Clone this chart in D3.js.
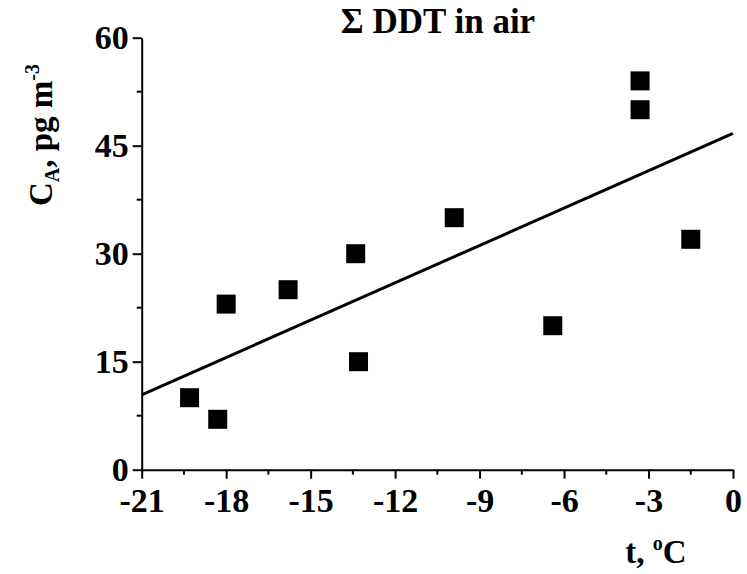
<!DOCTYPE html>
<html><head><meta charset="utf-8">
<script src="https://cdn.jsdelivr.net/npm/d3@7"></script>
<style>body{margin:0;background:#fff}svg{display:block}</style>
</head><body>
<script>
const tempC = [-19.3, -18.3, -18.0, -15.8, -13.4, -13.3, -9.9, -6.4, -3.3, -3.3, -1.5];
const concDDT = [10, 7, 23, 25, 30, 15, 35, 20, 54, 50, 32];
const fitX = [-21, 0];
const fitY = [10.4, 46.7];
const xTicks = [-21, -18, -15, -12, -9, -6, -3, 0];
const yTicks = [0, 15, 30, 45, 60];

const FONT = "'Liberation Serif', 'Times New Roman', Times, serif";
const W = 747, H = 574;
const m = {left: 141.7, right: W - 733, top: 37.7, bottom: H - 469.7};
const svg = d3.select("body").append("svg").attr("width", W).attr("height", H)
  .style("font-family", FONT).style("font-weight", "bold");
const x = d3.scaleLinear().domain([-21, 0]).range([m.left, W - m.right]);
const y = d3.scaleLinear().domain([0, 60]).range([H - m.bottom, m.top]);

// minor ticks
const xMinor = d3.range(-19.5, 0, 3);
const yMinor = d3.range(7.5, 60, 15);
svg.append("g").selectAll("line").data(xMinor).join("line")
  .attr("x1", d => x(d)).attr("x2", d => x(d))
  .attr("y1", y(0)).attr("y2", y(0) + 5).attr("stroke", "#000").attr("stroke-width", 2);
svg.append("g").selectAll("line").data(yMinor).join("line")
  .attr("y1", d => y(d)).attr("y2", d => y(d))
  .attr("x1", x(-21)).attr("x2", x(-21) - 5).attr("stroke", "#000").attr("stroke-width", 2);

const xAxis = svg.append("g").attr("transform", `translate(0,${y(0)})`)
  .call(d3.axisBottom(x).tickValues(xTicks).tickSize(9).tickPadding(9).tickSizeOuter(0));
const yAxis = svg.append("g").attr("transform", `translate(${x(-21)},0)`)
  .call(d3.axisLeft(y).tickValues(yTicks).tickSize(9).tickPadding(4).tickSizeOuter(0));
[xAxis, yAxis].forEach(g => {
  g.attr("font-family", null).attr("font-size", null);
  g.select(".domain").attr("stroke", "#000").attr("stroke-width", 2);
  g.selectAll(".tick line").attr("stroke", "#000").attr("stroke-width", 2);
  g.selectAll(".tick text").style("font-family", FONT).style("font-weight", "bold")
    .style("font-size", "34px").attr("fill", "#000");
});
xAxis.selectAll(".tick text").text(d => d < 0 ? "-" + Math.abs(d) : d);

// fit line
svg.append("line")
  .attr("x1", x(fitX[0])).attr("y1", y(fitY[0]))
  .attr("x2", x(fitX[1])).attr("y2", y(fitY[1]))
  .attr("stroke", "#000").attr("stroke-width", 3);

// points
const s = 19;
svg.append("g").selectAll("rect").data(tempC.map((t, i) => [t, concDDT[i]])).join("rect")
  .attr("x", d => x(d[0]) - s / 2).attr("y", d => y(d[1]) - s / 2)
  .attr("width", s).attr("height", s).attr("fill", "#000");

// title
svg.append("text").attr("x", 438).attr("y", 33).attr("text-anchor", "middle")
  .style("font-family", FONT).style("font-weight", "bold").style("font-size", "35px")
  .text("Σ DDT in air");

// y label
const yl = svg.append("text").attr("transform", "translate(52,135) rotate(-90)")
  .attr("text-anchor", "middle").style("font-family", FONT).style("font-weight", "bold").style("font-size", "33px");
yl.append("tspan").text("C");
yl.append("tspan").style("font-size", "20px").attr("dy", 7).text("A");
yl.append("tspan").attr("dy", -7).text(", pg m");
yl.append("tspan").style("font-size", "20px").attr("dy", -13).text("-3");

// x label
const xl = svg.append("text").attr("x", 656).attr("y", 563).attr("text-anchor", "middle")
  .style("font-family", FONT).style("font-weight", "bold").style("font-size", "33px");
xl.append("tspan").text("t, ");
xl.append("tspan").style("font-size", "20px").attr("dy", -13).text("o");
xl.append("tspan").attr("dy", 13).text("C");
</script>
</body></html>
